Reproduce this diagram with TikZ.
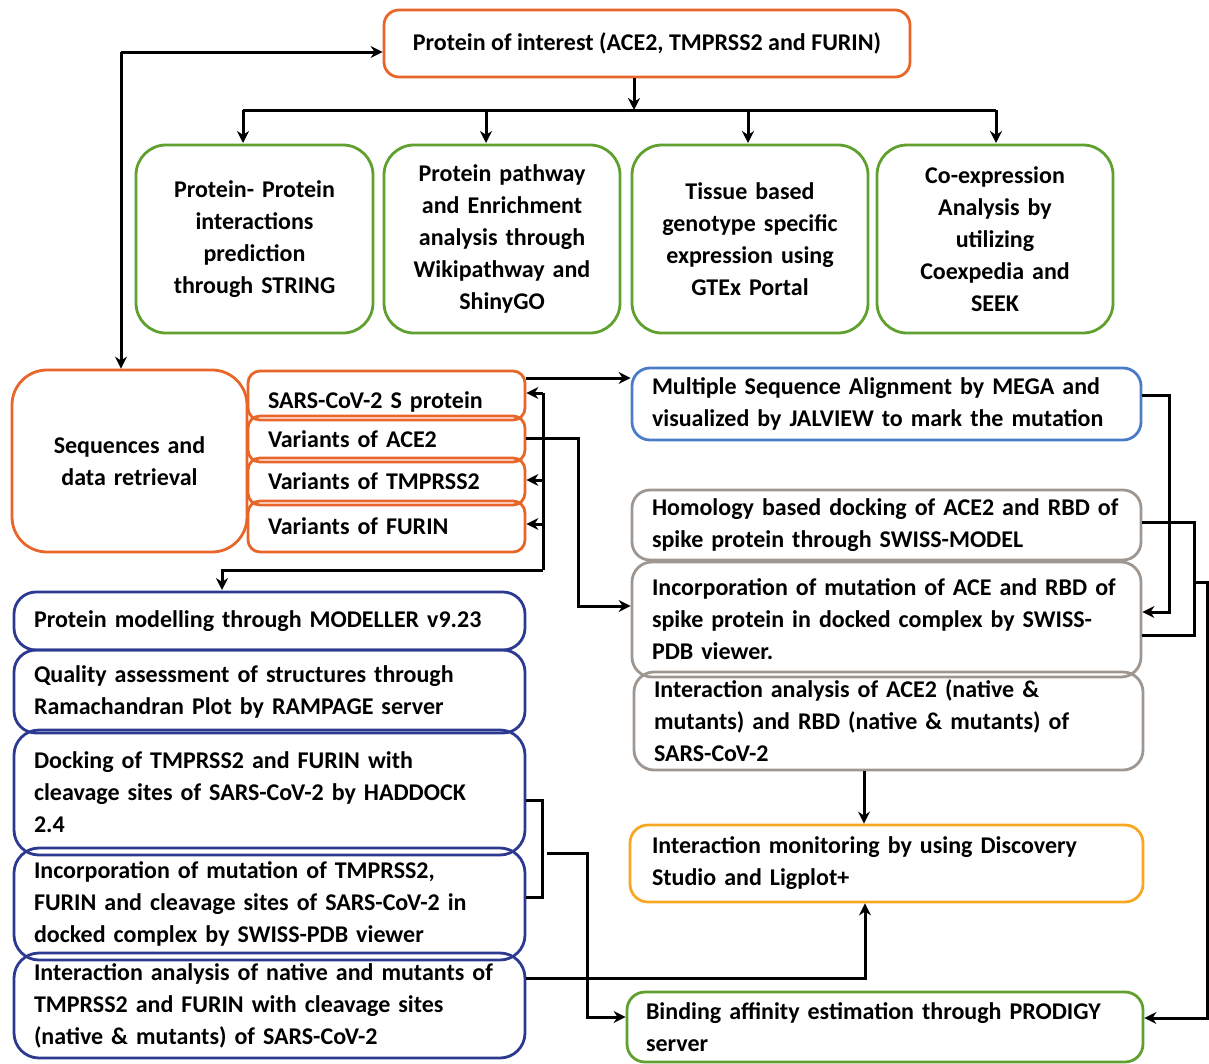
\documentclass[tikz,border=0pt]{standalone}
\usepackage{fontspec}
\setmainfont{Carlito}
\usetikzlibrary{arrows.meta,calc}
\definecolor{cOr}{HTML}{E8662A}
\definecolor{cGr}{HTML}{5FA02F}
\definecolor{cBl}{HTML}{4A7CC8}
\definecolor{cDb}{HTML}{2B3990}
\definecolor{cGy}{HTML}{9E9690}
\definecolor{cYe}{HTML}{F7A823}
\begin{document}
\begin{tikzpicture}[x=1pt,y=-1pt,
  every node/.style={font=\bfseries\fontsize{24}{32}\selectfont, inner sep=0pt},
  bx/.style n args={4}{draw=#1, line width=2.8pt, rounded corners=#4, minimum width=#2, minimum height=#3},
  lt/.style={align=left, text width=#1},
  ct/.style={align=center, text width=#1},
  con/.style={line width=3pt, -{Stealth[length=12pt,width=12pt]}},
  ln/.style={line width=3pt}
]
\useasboundingbox (0,0) rectangle (1209,1063);
% top
\node[bx={cOr}{526pt}{67pt}{15pt}] (top) at (647,43.5) {Protein of interest (ACE2, TMPRSS2 and FURIN)};
% green boxes
\node[bx={cGr}{237pt}{188pt}{30pt}, ct=225pt] (g1) at (254.5,239) {Protein- Protein\\interactions\\prediction\\through STRING};
\node[bx={cGr}{236pt}{188pt}{30pt}, ct=225pt] (g2) at (502,239) {Protein pathway\\and Enrichment\\analysis through\\Wikipathway and\\ShinyGO};
\node[bx={cGr}{236pt}{188pt}{30pt}, ct=225pt] (g3) at (750,239) {Tissue based\\genotype specific\\expression using\\GTEx Portal};
\node[bx={cGr}{236pt}{188pt}{30pt}, ct=225pt] (g4) at (995,239) {Co-expression\\Analysis by\\utilizing\\Coexpedia and\\SEEK};
% sequences
\node[bx={cOr}{235pt}{182pt}{35pt}, ct=215pt] (seq) at (129.5,461) {Sequences and\\data retrieval};
\node[bx={cOr}{277pt}{49pt}{12pt}, lt=237pt] (s1) at (386.5,395.5) {\raisebox{-6pt}[\height][\depth]{SARS-CoV-2 S protein}};
\node[bx={cOr}{277pt}{46pt}{12pt}, lt=237pt] (s2) at (386.5,439) {Variants of ACE2};
\node[bx={cOr}{277pt}{47pt}{12pt}, lt=237pt] (s3) at (386.5,481.5) {Variants of TMPRSS2};
\node[bx={cOr}{277pt}{51pt}{12pt}, lt=237pt] (s4) at (386.5,526.5) {Variants of FURIN};
% right column
\node[bx={cBl}{509pt}{72pt}{18pt}, lt=469pt] (msa) at (886.5,404) {Multiple Sequence Alignment by MEGA and\\visualized by JALVIEW to mark the mutation};
\node[bx={cGy}{509pt}{70pt}{18pt}, lt=469pt] (hom) at (886.5,525) {Homology based docking of ACE2 and RBD of\\spike protein through SWISS-MODEL};
\node[bx={cGy}{509pt}{115pt}{20pt}, lt=469pt] (inc) at (886.5,619.5) {Incorporation of mutation of ACE and RBD of\\spike protein in docked complex by SWISS-\\PDB viewer.};
\node[bx={cGy}{509pt}{98pt}{20pt}, lt=469pt] (ia) at (888.5,721) {Interaction analysis of ACE2 (native \&\\mutants) and RBD (native \& mutants) of\\SARS-CoV-2};
\node[bx={cYe}{513pt}{77pt}{18pt}, lt=469pt] (mon) at (886.5,863.5) {Interaction monitoring by using Discovery\\Studio and Ligplot+};
\node[bx={cGr}{516pt}{70pt}{18pt}, lt=478pt] (bind) at (885,1027) {Binding affinity estimation through PRODIGY\\server};
% left column
\node[bx={cDb}{511pt}{58pt}{22pt}, lt=471pt] (b1) at (269.5,621) {Protein modelling through MODELLER v9.23};
\node[bx={cDb}{511pt}{83pt}{22pt}, lt=471pt] (b2) at (269.5,691.5) {Quality assessment of structures through\\Ramachandran Plot by RAMPAGE server};
\node[bx={cDb}{511pt}{125pt}{25pt}, lt=471pt] (b3) at (269.5,792.5) {Docking of TMPRSS2 and FURIN with\\cleavage sites of SARS-CoV-2 by HADDOCK\\2.4};
\node[bx={cDb}{511pt}{112pt}{25pt}, lt=471pt] (b4) at (269.5,904) {Incorporation of mutation of TMPRSS2,\\FURIN and cleavage sites of SARS-CoV-2 in\\docked complex by SWISS-PDB viewer};
\node[bx={cDb}{511pt}{105pt}{25pt}, lt=471pt] (b5) at (269.5,1005.5) {Interaction analysis of native and mutants of\\TMPRSS2 and FURIN with cleavage sites\\(native \& mutants) of SARS-CoV-2};
% coordinates
\coordinate (tj) at (634,110);
\coordinate (lc) at (121,52);
\coordinate (vb) at (543,570);
\coordinate (bm) at (547,853);
\coordinate (rj) at (1194,582);
% top connectors
\draw[con] (top.south -| tj) -- (tj);
\draw[ln] (243,110) -- (996,110);
\draw[con] (243,110) -- (243,143);
\draw[con] (486,110) -- (486,143);
\draw[con] (748,110) -- (748,143);
\draw[con] (996,110) -- (996,143);
\draw[con] (lc) -- (top.west |- lc);
\draw[con] (lc) -- (lc |- seq.north);
% sequences bracket
\draw[con] (s1.east |- 0,378) -- (msa.west |- 0,378);
\draw[ln] (543,393) -- (vb);
\draw[con] (543,393) -- (s1.east |- 0,393);
\draw[con] (543,480) -- (s3.east |- 0,480);
\draw[con] (543,524) -- (s4.east |- 0,524);
\draw[con] (vb) -| (222,590);
\draw[con] (s2.east |- 0,438) -| (578,606) -- (inc.west |- 0,606);
% right side
\draw[con] (msa.east |- 0,395) -| (1169,612) -- (inc.east |- 0,612);
\draw[ln] (hom.east |- 0,522) -| (rj);
\draw[ln] (inc.east |- 0,635) -| (rj);
\draw[con] (rj) -| (1207,1018) -- (bind.east |- 0,1018);
\draw[con] (ia.south -| 864,0) -- (mon.north -| 864,0);
% left bottom
\draw[ln] (b3.east |- 0,800) -| (542,897) -- (b4.east |- 0,897);
\draw[con] (bm) -| (587,1017) -- (bind.west |- 0,1017);
\draw[con] (b5.east |- 0,978) -| (mon.south -| 865,0);
\end{tikzpicture}
\end{document}
